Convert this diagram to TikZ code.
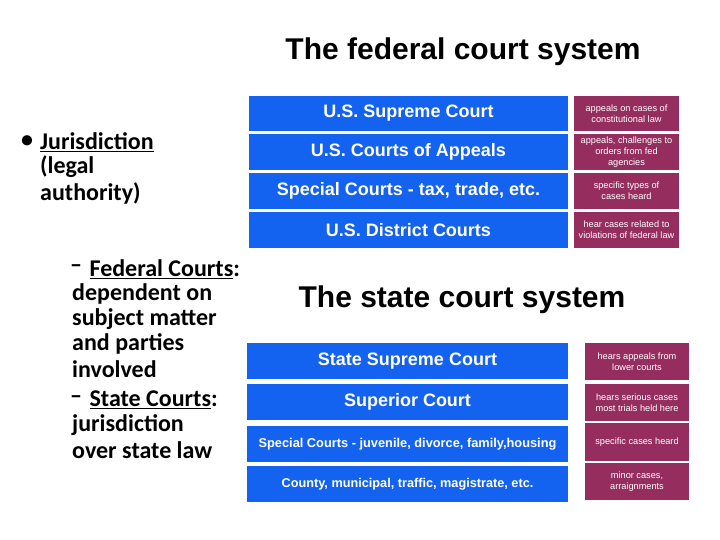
\documentclass[tikz,border=0pt]{standalone}
\usepackage{fontspec}
\setmainfont{Carlito}
\newfontfamily\arial{Liberation Sans}
\definecolor{cblue}{RGB}{20,98,240}
\definecolor{cpurp}{RGB}{150,45,95}
\begin{document}
\begin{tikzpicture}[x=1pt,y=-1pt,
 bl/.style={fill=cblue,text=white,inner sep=0pt},
 pu/.style={text=white,font=\arial\fontsize{9.2}{11}\selectfont,align=center,inner sep=0pt},
 tt/.style={font=\arial\bfseries\fontsize{30}{32}\selectfont,inner sep=0pt},
 tx/.style={font=\bfseries\fontsize{24}{25}\selectfont,anchor=west,inner sep=0pt}]
\useasboundingbox (0,0) rectangle (720,540);
\node[tt] (t1) at (463,52) {The federal court system};
\node[tt] (t2) at (462,300) {The state court system};
% federal
\foreach \n/\a/\b/\txt/\d in {f1/96/131/{U.S. Supreme Court}/{appeals on cases of\\constitutional law},
 f2/134/170/{U.S. Courts of Appeals}/{appeals, challenges to\\orders from fed\\agencies},
 f3/173/209/{Special Courts - tax, trade, etc.}/{specific types of\\cases heard},
 f4/212/248/{U.S. District Courts}/{hear cases related to\\violations of federal law}}{
 \fill[cblue] (249,\a) rectangle (568,\b);
 \node[bl,font=\arial\bfseries\fontsize{18}{20}\selectfont] (\n) at (408.5,{(\a+\b)/2}) {\txt};
 \fill[cpurp] (574,\a) rectangle (679,\b);
 \node[pu,font=\arial\fontsize{9.2}{11}\selectfont] (\n d) at (626.5,{(\a+\b)/2}) {\d};
}
% state
\foreach \n/\a/\b/\c/\e/\txt/\d/\fs in {s1/343/379/343/380/{State Supreme Court}/{hears appeals from\\lower courts}/18,
 s2/384/420/384/421/{Superior Court}/{hears serious cases\\most trials held here}/18,
 s3/426/462/423/461/{Special Courts - juvenile, divorce, family,housing}/{specific cases heard}/12.8,
 s4/466/502/463/500/{County, municipal, traffic, magistrate, etc.}/{minor cases,\\arraignments}/12.7}{
 \fill[cblue] (247,\a) rectangle (568,\b);
 \node[bl,font=\arial\bfseries\fontsize{\fs}{20}\selectfont] (\n) at (407.5,{(\a+\b)/2}) {\txt};
 \fill[cpurp] (585,\c) rectangle (689,\e);
 \node[pu,font=\arial\fontsize{9.2}{11}\selectfont] (\n d) at (637,{(\c+\e)/2}) {\d};
}
% left text
\node[tx] (b0) at (21,142) {•};
\node[tx] (l1) at (40,142) {\underline{Jurisdiction}};
\node[tx] (l2) at (40,167) {(legal};
\node[tx] (l3) at (40,193) {authority)};
\node[tx] (d1) at (70,269) {–};
\node[tx] (m1) at (72,269) {\phantom{–}\ \underline{Federal Courts}:};
\node[tx] (m2) at (72,294) {dependent on};
\node[tx] (m3) at (72,319) {subject matter};
\node[tx] (m4) at (72,344) {and parties};
\node[tx] (m5) at (72,369) {involved};
\node[tx] (d2) at (70,400) {–};
\node[tx] (n1) at (72,400) {\phantom{–}\ \underline{State Courts}:};
\node[tx] (n2) at (72,425) {jurisdiction};
\node[tx] (n3) at (72,450) {over state law};
\end{tikzpicture}
\end{document}
